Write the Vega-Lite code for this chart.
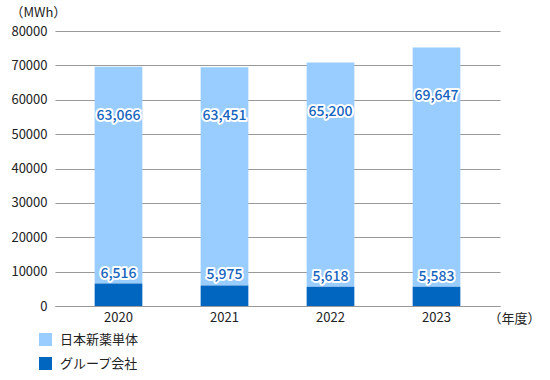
{
  "$schema": "https://vega.github.io/schema/vega-lite/v6.json",
  "autosize": "none",
  "width": 445,
  "height": 275,
  "padding": {"left": 55, "top": 31, "right": 50, "bottom": 74},
  "background": "white",
  "config": {
    "view": {"stroke": null},
    "font": "Noto Sans CJK JP",
    "axis": {"labelFont": "Noto Sans CJK JP", "titleFont": "Noto Sans CJK JP"},
    "legend": {"labelFont": "Noto Sans CJK JP"}
  },
  "data": {
    "values": [
      {"year": "2020", "series": "日本新薬単体", "value": 63066},
      {"year": "2020", "series": "グループ会社", "value": 6516},
      {"year": "2021", "series": "日本新薬単体", "value": 63451},
      {"year": "2021", "series": "グループ会社", "value": 5975},
      {"year": "2022", "series": "日本新薬単体", "value": 65200},
      {"year": "2022", "series": "グループ会社", "value": 5618},
      {"year": "2023", "series": "日本新薬単体", "value": 69647},
      {"year": "2023", "series": "グループ会社", "value": 5583}
    ]
  },
  "transform": [
    {"stack": "value", "groupby": ["year"], "sort": [{"field": "series", "order": "ascending"}], "as": ["v0", "v1"]}
  ],
  "encoding": {
    "x": {
      "field": "year", "type": "nominal",
      "scale": {"paddingInner": 0.55, "paddingOuter": 0.374},
      "axis": {
        "title": "（年度）", "titleX": 433, "titleY": 12, "titleAlign": "left", "titleBaseline": "middle",
        "titleFontSize": 13, "titleFontWeight": "normal", "titleColor": "#222",
        "labelAngle": 0, "labelFontSize": 13, "labelColor": "#222", "labelPadding": 5,
        "ticks": false, "domainColor": "#999", "domainWidth": 1
      }
    },
    "y": {
      "field": "v1", "type": "quantitative",
      "scale": {"domain": [0, 80000]},
      "axis": {
        "values": [0, 10000, 20000, 30000, 40000, 50000, 60000, 70000, 80000],
        "labelOverlap": false,
        "format": "d",
        "title": "（MWh）", "titleAngle": 0, "titleX": -45, "titleY": -19,
        "titleAlign": "left", "titleBaseline": "middle",
        "titleFontSize": 13, "titleFontWeight": "normal", "titleColor": "#222",
        "labelFontSize": 13, "labelColor": "#222", "labelPadding": 8,
        "ticks": false, "domain": false, "gridColor": "#999", "gridWidth": 1, "gridOpacity": 1
      }
    }
  },
  "layer": [
    {
      "mark": {"type": "bar"},
      "encoding": {
        "y2": {"field": "v0"},
        "color": {
          "field": "series", "type": "nominal",
          "scale": {"domain": ["日本新薬単体", "グループ会社"], "range": ["#99CCFF", "#0066BF"]},
          "legend": {
            "title": null, "orient": "none", "direction": "vertical",
            "legendX": -16, "legendY": 302,
            "symbolType": "square", "symbolSize": 169, "symbolStrokeWidth": 0,
            "labelFontSize": 13, "labelColor": "#222", "rowPadding": 10, "labelOffset": 8
          }
        }
      }
    },
    {
      "transform": [{"filter": "datum.series === '日本新薬単体'"}],
      "mark": {"type": "text", "dy": 49, "fontSize": 14, "fontWeight": 500, "stroke": "white", "strokeWidth": 4, "strokeJoin": "round", "fill": "white"},
      "encoding": {"text": {"field": "value", "type": "quantitative", "format": ","}}
    },
    {
      "transform": [{"filter": "datum.series === '日本新薬単体'"}],
      "mark": {"type": "text", "dy": 49, "fontSize": 14, "fontWeight": 500, "fill": "#1565C0"},
      "encoding": {"text": {"field": "value", "type": "quantitative", "format": ","}}
    },
    {
      "transform": [{"filter": "datum.series === 'グループ会社'"}],
      "mark": {"type": "text", "dy": -10, "fontSize": 14, "fontWeight": 500, "stroke": "white", "strokeWidth": 4, "strokeJoin": "round", "fill": "white"},
      "encoding": {"text": {"field": "value", "type": "quantitative", "format": ","}}
    },
    {
      "transform": [{"filter": "datum.series === 'グループ会社'"}],
      "mark": {"type": "text", "dy": -10, "fontSize": 14, "fontWeight": 500, "fill": "#1565C0"},
      "encoding": {"text": {"field": "value", "type": "quantitative", "format": ","}}
    }
  ]
}
